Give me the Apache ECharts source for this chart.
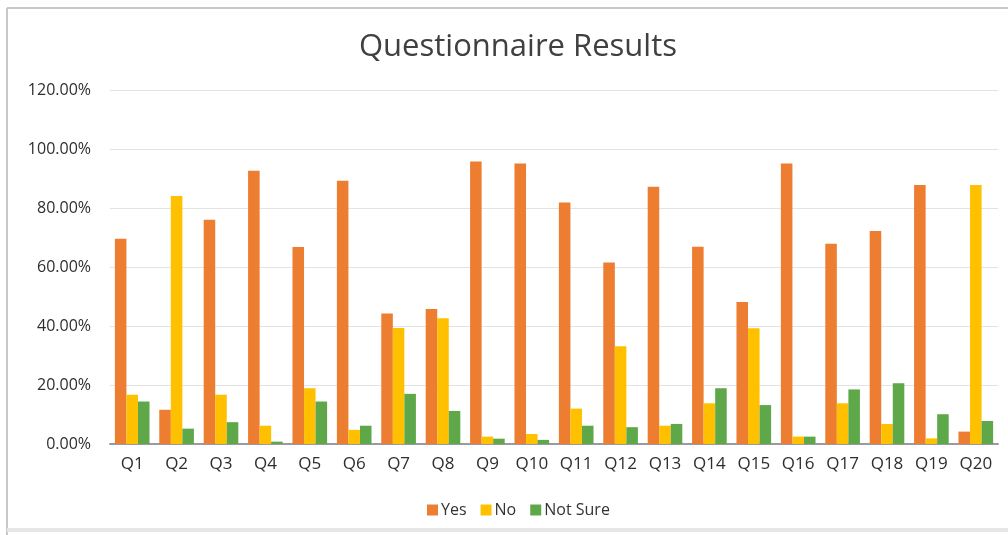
<!DOCTYPE html>
<html>
<head>
<meta charset="utf-8">
<title>Questionnaire Results</title>
<script src="https://cdn.jsdelivr.net/npm/echarts@6/dist/echarts.min.js"></script>
<style>
  html, body { margin: 0; padding: 0; background: #fff; }
  #chart { width: 1008px; height: 535px; }
</style>
</head>
<body>
<div id="chart"></div>
<script>
const categories = ['Q1', 'Q2', 'Q3', 'Q4', 'Q5', 'Q6', 'Q7', 'Q8', 'Q9', 'Q10',
  'Q11', 'Q12', 'Q13', 'Q14', 'Q15', 'Q16', 'Q17', 'Q18', 'Q19', 'Q20'];
const yesValues = [69.6, 11.6, 76.0, 92.6, 66.8, 89.2, 44.2, 45.8, 95.8, 95.1,
  81.9, 61.5, 87.2, 66.9, 48.1, 95.1, 67.9, 72.2, 87.8, 4.2];
const noValues = [16.7, 84.1, 16.7, 6.2, 18.9, 4.8, 39.3, 42.6, 2.5, 3.4,
  12.0, 33.1, 6.2, 13.8, 39.2, 2.5, 13.8, 6.8, 1.9, 87.8];
const notSureValues = [14.4, 5.2, 7.4, 0.8, 14.4, 6.2, 17.0, 11.2, 1.8, 1.4,
  6.2, 5.7, 6.8, 18.9, 13.2, 2.5, 18.5, 20.6, 10.1, 7.8];
const yTicks = [0, 20, 40, 60, 80, 100, 120];

const chart = echarts.init(document.getElementById('chart'));

const font = 'Open Sans, Noto Sans, sans-serif';

chart.setOption({
  animation: false,
  backgroundColor: '#fff',
  title: {
    text: 'Questionnaire Results',
    left: 354,
    top: 27,
    textStyle: { fontFamily: font, fontSize: 31, fontWeight: 'normal', color: '#404040' }
  },
  legend: {
    bottom: 12,
    left: 422,
    itemWidth: 11,
    itemHeight: 11,
    itemGap: 14,
    icon: 'rect',
    textStyle: { fontFamily: font, fontSize: 16, color: '#333', padding: [0, 0, 0, -2] }
  },
  grid: { left: 110, right: 10, top: 90, bottom: 91, containLabel: false },
  xAxis: {
    type: 'category',
    data: categories,
    axisLine: { lineStyle: { color: '#9a9aa6', width: 2 } },
    axisTick: { show: false },
    axisLabel: { fontFamily: font, fontSize: 17, color: '#2e2e2e', margin: 12 }
  },
  yAxis: {
    type: 'value',
    min: yTicks[0],
    max: yTicks[yTicks.length - 1],
    interval: 20,
    axisLine: { show: false },
    axisTick: { show: false },
    splitLine: { lineStyle: { color: '#e3e3e3', width: 1 } },
    axisLabel: {
      fontFamily: font, fontSize: 16, color: '#2e2e2e', margin: 19,
      formatter: v => v.toFixed(2) + '%'
    }
  },
  series: [
    { name: 'Yes', type: 'bar', data: yesValues, itemStyle: { color: '#ED7D31' }, barGap: '0%', barCategoryGap: '22%' },
    { name: 'No', type: 'bar', data: noValues, itemStyle: { color: '#FFC000' } },
    { name: 'Not Sure', type: 'bar', data: notSureValues, itemStyle: { color: '#5FA84A' } }
  ],
  graphic: [
    { type: 'line', shape: { x1: 7, y1: 8, x2: 1008, y2: 8 }, style: { stroke: '#c8c8c8', lineWidth: 2 } },
    { type: 'line', shape: { x1: 7, y1: 8, x2: 7, y2: 535 }, style: { stroke: '#c8c8c8', lineWidth: 2 } },
    { type: 'line', shape: { x1: 7, y1: 530, x2: 1008, y2: 530 }, style: { stroke: '#e6e6e6', lineWidth: 4 } }
  ]
});
</script>
</body>
</html>
